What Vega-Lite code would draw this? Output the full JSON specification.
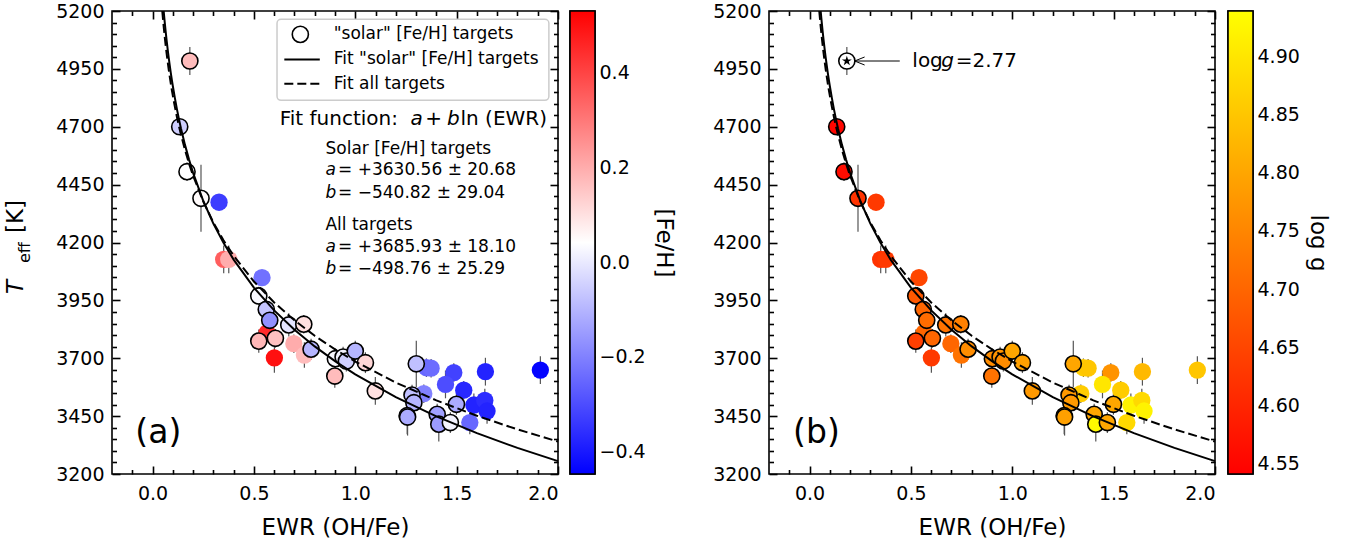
{
"$schema": "https://vega.github.io/schema/vega-lite/v6.json",
"background": "white",
"padding": {"left": 4, "top": 1, "right": 0, "bottom": 0},
"config": {
  "font": "DejaVu Sans",
  "view": {"stroke": "black", "strokeWidth": 1.6},
  "axis": {"domain": false, "grid": false, "labelFont": "DejaVu Sans", "labelFontSize": 19, "labelColor": "black", "tickColor": "black", "tickWidth": 1.6, "titleFont": "DejaVu Sans", "titleFontWeight": "normal", "titleColor": "black", "titleFontSize": 23}
},
"datasets": {
  "one": [{"k": 1}],
  "stars": [
    {"e": 0.184, "t": 4984, "lo": 4924, "hi": 5044, "feh": 0.17, "logg": 2.77, "solar": 1},
    {"e": 0.134, "t": 4700, "lo": 4675, "hi": 4725, "feh": -0.05, "logg": 4.55, "solar": 1},
    {"e": 0.170, "t": 4506, "lo": 4466, "hi": 4546, "feh": 0.04, "logg": 4.56, "solar": 1},
    {"e": 0.239, "t": 4391, "lo": 4246, "hi": 4536, "feh": 0.05, "logg": 4.62, "solar": 1},
    {"e": 0.328, "t": 4374, "lo": 4344, "hi": 4404, "feh": -0.33, "logg": 4.63, "solar": 0},
    {"e": 0.351, "t": 4127, "lo": 4067, "hi": 4187, "feh": 0.35, "logg": 4.62, "solar": 0},
    {"e": 0.376, "t": 4127, "lo": 4067, "hi": 4187, "feh": 0.2, "logg": 4.63, "solar": 0},
    {"e": 0.540, "t": 4048, "lo": 4018, "hi": 4078, "feh": -0.23, "logg": 4.65, "solar": 0},
    {"e": 0.524, "t": 3969, "lo": 3929, "hi": 4009, "feh": 0.03, "logg": 4.68, "solar": 1},
    {"e": 0.561, "t": 3911, "lo": 3871, "hi": 3951, "feh": -0.07, "logg": 4.70, "solar": 1},
    {"e": 0.578, "t": 3864, "lo": 3824, "hi": 3904, "feh": -0.17, "logg": 4.71, "solar": 1},
    {"e": 0.565, "t": 3810, "lo": 3780, "hi": 3840, "feh": 0.45, "logg": 4.70, "solar": 0},
    {"e": 0.524, "t": 3774, "lo": 3724, "hi": 3824, "feh": 0.18, "logg": 4.64, "solar": 1},
    {"e": 0.606, "t": 3786, "lo": 3746, "hi": 3826, "feh": 0.16, "logg": 4.70, "solar": 1},
    {"e": 0.601, "t": 3702, "lo": 3637, "hi": 3767, "feh": 0.5, "logg": 4.63, "solar": 0},
    {"e": 0.672, "t": 3844, "lo": 3794, "hi": 3894, "feh": -0.01, "logg": 4.72, "solar": 1},
    {"e": 0.746, "t": 3847, "lo": 3807, "hi": 3887, "feh": 0.1, "logg": 4.74, "solar": 1},
    {"e": 0.697, "t": 3763, "lo": 3723, "hi": 3803, "feh": 0.2, "logg": 4.70, "solar": 0},
    {"e": 0.749, "t": 3714, "lo": 3659, "hi": 3769, "feh": 0.17, "logg": 4.72, "solar": 0},
    {"e": 0.782, "t": 3739, "lo": 3694, "hi": 3784, "feh": -0.1, "logg": 4.76, "solar": 1},
    {"e": 0.902, "t": 3698, "lo": 3653, "hi": 3743, "feh": 0.03, "logg": 4.76, "solar": 1},
    {"e": 0.940, "t": 3705, "lo": 3660, "hi": 3750, "feh": 0.02, "logg": 4.77, "solar": 1},
    {"e": 0.956, "t": 3688, "lo": 3643, "hi": 3733, "feh": -0.05, "logg": 4.76, "solar": 1},
    {"e": 1.000, "t": 3731, "lo": 3686, "hi": 3776, "feh": -0.1, "logg": 4.80, "solar": 1},
    {"e": 1.050, "t": 3681, "lo": 3636, "hi": 3726, "feh": 0.12, "logg": 4.79, "solar": 1},
    {"e": 0.899, "t": 3623, "lo": 3573, "hi": 3673, "feh": 0.17, "logg": 4.72, "solar": 1},
    {"e": 1.099, "t": 3559, "lo": 3499, "hi": 3619, "feh": 0.1, "logg": 4.78, "solar": 1},
    {"e": 1.301, "t": 3676, "lo": 3576, "hi": 3776, "feh": -0.08, "logg": 4.80, "solar": 1},
    {"e": 1.351, "t": 3659, "lo": 3619, "hi": 3699, "feh": -0.25, "logg": 4.86, "solar": 0},
    {"e": 1.374, "t": 3657, "lo": 3617, "hi": 3697, "feh": -0.24, "logg": 4.85, "solar": 0},
    {"e": 1.486, "t": 3638, "lo": 3598, "hi": 3678, "feh": -0.32, "logg": 4.77, "solar": 0},
    {"e": 1.445, "t": 3587, "lo": 3527, "hi": 3647, "feh": -0.3, "logg": 4.90, "solar": 0},
    {"e": 1.642, "t": 3642, "lo": 3582, "hi": 3702, "feh": -0.38, "logg": 4.83, "solar": 0},
    {"e": 1.913, "t": 3649, "lo": 3589, "hi": 3709, "feh": -0.44, "logg": 4.85, "solar": 0},
    {"e": 1.535, "t": 3562, "lo": 3522, "hi": 3602, "feh": -0.37, "logg": 4.86, "solar": 0},
    {"e": 1.585, "t": 3498, "lo": 3448, "hi": 3548, "feh": -0.38, "logg": 4.92, "solar": 0},
    {"e": 1.639, "t": 3518, "lo": 3468, "hi": 3568, "feh": -0.36, "logg": 4.88, "solar": 0},
    {"e": 1.650, "t": 3472, "lo": 3417, "hi": 3527, "feh": -0.38, "logg": 4.92, "solar": 0},
    {"e": 1.565, "t": 3422, "lo": 3372, "hi": 3472, "feh": -0.25, "logg": 4.88, "solar": 0},
    {"e": 1.338, "t": 3547, "lo": 3507, "hi": 3587, "feh": -0.2, "logg": 4.86, "solar": 0},
    {"e": 1.280, "t": 3541, "lo": 3496, "hi": 3586, "feh": -0.08, "logg": 4.78, "solar": 1},
    {"e": 1.289, "t": 3508, "lo": 3463, "hi": 3553, "feh": -0.1, "logg": 4.78, "solar": 1},
    {"e": 1.256, "t": 3452, "lo": 3372, "hi": 3532, "feh": -0.1, "logg": 4.79, "solar": 1},
    {"e": 1.258, "t": 3446, "lo": 3366, "hi": 3526, "feh": -0.12, "logg": 4.79, "solar": 1},
    {"e": 1.404, "t": 3458, "lo": 3413, "hi": 3503, "feh": -0.14, "logg": 4.80, "solar": 1},
    {"e": 1.412, "t": 3415, "lo": 3340, "hi": 3490, "feh": -0.15, "logg": 4.93, "solar": 1},
    {"e": 1.469, "t": 3422, "lo": 3377, "hi": 3467, "feh": 0.02, "logg": 4.80, "solar": 1},
    {"e": 1.499, "t": 3501, "lo": 3456, "hi": 3546, "feh": -0.12, "logg": 4.80, "solar": 1}
  ],
  "fitSolar": [
    {"e": 0.0549, "t": 5200}, {"e": 0.06, "t": 5152.1}, {"e": 0.065, "t": 5108.9},
    {"e": 0.07, "t": 5068.8}, {"e": 0.075, "t": 5031.5}, {"e": 0.08, "t": 4996.5}, {"e": 0.085, "t": 4963.8},
    {"e": 0.09, "t": 4932.8}, {"e": 0.095, "t": 4903.6}, {"e": 0.1, "t": 4875.9}, {"e": 0.11, "t": 4824.4},
    {"e": 0.12, "t": 4777.3}, {"e": 0.13, "t": 4734.0}, {"e": 0.14, "t": 4693.9}, {"e": 0.16, "t": 4621.7},
    {"e": 0.18, "t": 4558.0}, {"e": 0.2, "t": 4501.0}, {"e": 0.25, "t": 4380.3}, {"e": 0.3, "t": 4281.7},
    {"e": 0.35, "t": 4198.4}, {"e": 0.4, "t": 4126.2}, {"e": 0.5, "t": 4005.4}, {"e": 0.6, "t": 3906.8},
    {"e": 0.7, "t": 3823.5}, {"e": 0.8, "t": 3751.2}, {"e": 0.9, "t": 3687.6}, {"e": 1.0, "t": 3630.6},
    {"e": 1.2, "t": 3532.0}, {"e": 1.4, "t": 3448.6}, {"e": 1.6, "t": 3376.4}, {"e": 1.8, "t": 3312.7},
    {"e": 2.0, "t": 3255.7}
  ],
  "fitAll": [
    {"e": 0.048, "t": 5200}, {"e": 0.05, "t": 5180.1}, {"e": 0.055, "t": 5132.5}, {"e": 0.06, "t": 5089.1},
    {"e": 0.065, "t": 5049.2}, {"e": 0.07, "t": 5012.3}, {"e": 0.075, "t": 4977.8}, {"e": 0.08, "t": 4945.6},
    {"e": 0.085, "t": 4915.4}, {"e": 0.09, "t": 4886.9}, {"e": 0.095, "t": 4859.9}, {"e": 0.1, "t": 4834.4},
    {"e": 0.11, "t": 4786.8}, {"e": 0.12, "t": 4743.4}, {"e": 0.13, "t": 4703.5}, {"e": 0.14, "t": 4666.5},
    {"e": 0.16, "t": 4599.9}, {"e": 0.18, "t": 4541.2}, {"e": 0.2, "t": 4488.6}, {"e": 0.25, "t": 4377.3},
    {"e": 0.3, "t": 4286.4}, {"e": 0.35, "t": 4209.5}, {"e": 0.4, "t": 4142.9}, {"e": 0.5, "t": 4031.6},
    {"e": 0.6, "t": 3940.7}, {"e": 0.7, "t": 3863.8}, {"e": 0.8, "t": 3797.2}, {"e": 0.9, "t": 3738.5},
    {"e": 1.0, "t": 3685.9}, {"e": 1.2, "t": 3595.0}, {"e": 1.4, "t": 3518.1}, {"e": 1.6, "t": 3451.5},
    {"e": 1.8, "t": 3392.7}, {"e": 2.0, "t": 3340.2}
  ]
},
"spacing": 36,
"resolve": {"scale": {"fill": "independent"}},
"hconcat": [
 {"spacing": 5, "resolve": {"scale": {"fill": "independent"}}, "hconcat": [
  {"width": 446, "height": 463, "data": {"name": "stars"},
   "resolve": {"axis": {"x": "independent", "y": "independent"}},
   "layer": [
    {"mark": {"type": "rule", "color": "#555555", "strokeWidth": 1.2},
     "encoding": {
      "x": {"field": "e", "type": "quantitative", "scale": {"domain": [-0.2, 2.0], "nice": false, "zero": false}, "axis": {"orient": "bottom", "values": [0, 0.5, 1, 1.5, 2], "format": ".1f", "ticks": false, "labelPadding": 10, "title": "EWR (OH/Fe)", "titlePadding": 13}},
      "y": {"field": "lo", "type": "quantitative", "scale": {"domain": [3200, 5200], "nice": false, "zero": false}, "axis": {"orient": "left", "values": [3200, 3450, 3700, 3950, 4200, 4450, 4700, 4950, 5200], "format": "d", "ticks": false, "labelPadding": 8, "title": null}},
      "y2": {"field": "hi"}}},
    {"transform": [{"filter": "datum.solar == 0"}],
     "mark": {"type": "point", "shape": "circle", "filled": true, "size": 300, "strokeWidth": 0, "opacity": 1},
     "encoding": {
      "x": {"field": "e", "type": "quantitative", "scale": {"domain": [-0.2, 2.0], "nice": false, "zero": false}, "axis": {"orient": "bottom", "values": [0, 0.5, 1, 1.5, 2], "labels": false, "tickSize": -8, "title": null}},
      "y": {"field": "t", "type": "quantitative", "scale": {"domain": [3200, 5200], "nice": false, "zero": false}, "axis": {"orient": "left", "values": [3200, 3450, 3700, 3950, 4200, 4450, 4700, 4950, 5200], "labels": false, "tickSize": -8, "title": null}},
      "fill": {"field": "feh", "type": "quantitative", "scale": {"domain": [-0.447, 0.0415, 0.53], "range": ["#0000ff", "#ffffff", "#ff0000"], "interpolate": "rgb"}, "legend": null}}},
    {"transform": [{"filter": "datum.solar == 1"}],
     "mark": {"type": "point", "shape": "circle", "filled": true, "size": 260, "stroke": "black", "strokeWidth": 1.6, "opacity": 1},
     "encoding": {
      "x": {"field": "e", "type": "quantitative", "scale": {"domain": [-0.2, 2.0], "nice": false, "zero": false}, "axis": {"orient": "bottom", "values": [-0.1, 0.1, 0.2, 0.3, 0.4, 0.6, 0.7, 0.8, 0.9, 1.1, 1.2, 1.3, 1.4, 1.6, 1.7, 1.8, 1.9], "labels": false, "tickSize": -4.5, "title": null}},
      "y": {"field": "t", "type": "quantitative", "scale": {"domain": [3200, 5200], "nice": false, "zero": false}, "axis": {"orient": "left", "values": [3250, 3300, 3350, 3400, 3500, 3550, 3600, 3650, 3750, 3800, 3850, 3900, 4000, 4050, 4100, 4150, 4250, 4300, 4350, 4400, 4500, 4550, 4600, 4650, 4750, 4800, 4850, 4900, 5000, 5050, 5100, 5150], "labels": false, "tickSize": -4.5, "title": null}},
      "fill": {"field": "feh", "type": "quantitative", "scale": {"domain": [-0.447, 0.0415, 0.53], "range": ["#0000ff", "#ffffff", "#ff0000"], "interpolate": "rgb"}, "legend": null}}},
    {"data": {"name": "fitSolar"},
     "mark": {"type": "line", "color": "black", "strokeWidth": 2},
     "encoding": {
      "x": {"field": "e", "type": "quantitative", "scale": {"domain": [-0.2, 2.0], "nice": false, "zero": false}, "axis": {"orient": "top", "values": [0, 0.5, 1, 1.5, 2], "labels": false, "tickSize": -8, "title": null}},
      "y": {"field": "t", "type": "quantitative", "scale": {"domain": [3200, 5200], "nice": false, "zero": false}, "axis": {"orient": "right", "values": [3200, 3450, 3700, 3950, 4200, 4450, 4700, 4950, 5200], "labels": false, "tickSize": -8, "title": null}}}},
    {"data": {"name": "fitAll"},
     "mark": {"type": "line", "color": "black", "strokeWidth": 2, "strokeDash": [9, 4]},
     "encoding": {
      "x": {"field": "e", "type": "quantitative", "scale": {"domain": [-0.2, 2.0], "nice": false, "zero": false}, "axis": {"orient": "top", "values": [-0.1, 0.1, 0.2, 0.3, 0.4, 0.6, 0.7, 0.8, 0.9, 1.1, 1.2, 1.3, 1.4, 1.6, 1.7, 1.8, 1.9], "labels": false, "tickSize": -4.5, "title": null}},
      "y": {"field": "t", "type": "quantitative", "scale": {"domain": [3200, 5200], "nice": false, "zero": false}, "axis": {"orient": "right", "values": [3250, 3300, 3350, 3400, 3500, 3550, 3600, 3650, 3750, 3800, 3850, 3900, 4000, 4050, 4100, 4150, 4250, 4300, 4350, 4400, 4500, 4550, 4600, 4650, 4750, 4800, 4850, 4900, 5000, 5050, 5100, 5150], "labels": false, "tickSize": -4.5, "title": null}}}},
    {"data": {"name": "one"},
     "mark": {"type": "rect", "fill": "white", "fillOpacity": 0.8, "stroke": "#cccccc", "strokeWidth": 1.5, "cornerRadius": 4},
     "encoding": {"x": {"datum": 0.614, "type": "quantitative", "axis": null}, "x2": {"datum": 1.955}, "y": {"datum": 5164, "type": "quantitative", "axis": null}, "y2": {"datum": 4814}}},
    {"data": {"name": "one"},
     "mark": {"type": "point", "shape": "circle", "filled": true, "fill": "white", "size": 260, "stroke": "black", "strokeWidth": 1.6, "opacity": 1},
     "encoding": {"x": {"datum": 0.729, "type": "quantitative", "axis": null}, "y": {"datum": 5099, "type": "quantitative", "axis": null}}},
    {"data": {"name": "one"},
     "mark": {"type": "rule", "color": "black", "strokeWidth": 2},
     "encoding": {"x": {"datum": 0.650, "type": "quantitative", "axis": null}, "x2": {"datum": 0.825}, "y": {"datum": 4991, "type": "quantitative", "axis": null}}},
    {"data": {"name": "one"},
     "mark": {"type": "rule", "color": "black", "strokeWidth": 2, "strokeDash": [9, 4]},
     "encoding": {"x": {"datum": 0.650, "type": "quantitative", "axis": null}, "x2": {"datum": 0.825}, "y": {"datum": 4886, "type": "quantitative", "axis": null}}},
    {"data": {"name": "one"}, "mark": {"type": "text", "text": "\"solar\" [Fe/H] targets", "align": "left", "baseline": "middle", "fontSize": 17},
     "encoding": {"x": {"datum": 0.894, "type": "quantitative", "axis": null}, "y": {"datum": 5099, "type": "quantitative", "axis": null}}},
    {"data": {"name": "one"}, "mark": {"type": "text", "text": "Fit \"solar\" [Fe/H] targets", "align": "left", "baseline": "middle", "fontSize": 17},
     "encoding": {"x": {"datum": 0.894, "type": "quantitative", "axis": null}, "y": {"datum": 4991, "type": "quantitative", "axis": null}}},
    {"data": {"name": "one"}, "mark": {"type": "text", "text": "Fit all targets", "align": "left", "baseline": "middle", "fontSize": 17},
     "encoding": {"x": {"datum": 0.894, "type": "quantitative", "axis": null}, "y": {"datum": 4886, "type": "quantitative", "axis": null}}},
    {"data": {"name": "one"}, "mark": {"type": "text", "text": "Fit function:", "align": "left", "baseline": "middle", "fontSize": 20},
     "encoding": {"x": {"datum": 0.6275, "type": "quantitative", "axis": null}, "y": {"datum": 4732, "type": "quantitative", "axis": null}}},
    {"data": {"name": "one"}, "mark": {"type": "text", "text": "a", "fontStyle": "italic", "align": "left", "baseline": "middle", "fontSize": 20},
     "encoding": {"x": {"datum": 1.272, "type": "quantitative", "axis": null}, "y": {"datum": 4732, "type": "quantitative", "axis": null}}},
    {"data": {"name": "one"}, "mark": {"type": "text", "text": "+", "align": "left", "baseline": "middle", "fontSize": 20},
     "encoding": {"x": {"datum": 1.345, "type": "quantitative", "axis": null}, "y": {"datum": 4732, "type": "quantitative", "axis": null}}},
    {"data": {"name": "one"}, "mark": {"type": "text", "text": "b", "fontStyle": "italic", "align": "left", "baseline": "middle", "fontSize": 20},
     "encoding": {"x": {"datum": 1.453, "type": "quantitative", "axis": null}, "y": {"datum": 4732, "type": "quantitative", "axis": null}}},
    {"data": {"name": "one"}, "mark": {"type": "text", "text": "ln (EWR)", "align": "left", "baseline": "middle", "fontSize": 20},
     "encoding": {"x": {"datum": 1.519, "type": "quantitative", "axis": null}, "y": {"datum": 4732, "type": "quantitative", "axis": null}}},
    {"data": {"name": "one"}, "mark": {"type": "text", "text": "Solar [Fe/H] targets", "align": "left", "baseline": "middle", "fontSize": 17},
     "encoding": {"x": {"datum": 0.853, "type": "quantitative", "axis": null}, "y": {"datum": 4603, "type": "quantitative", "axis": null}}},
    {"data": {"name": "one"}, "mark": {"type": "text", "text": "a", "fontStyle": "italic", "align": "left", "baseline": "middle", "fontSize": 17},
     "encoding": {"x": {"datum": 0.853, "type": "quantitative", "axis": null}, "y": {"datum": 4512, "type": "quantitative", "axis": null}}},
    {"data": {"name": "one"}, "mark": {"type": "text", "text": "= +3630.56 ± 20.68", "align": "left", "baseline": "middle", "fontSize": 17},
     "encoding": {"x": {"datum": 0.915, "type": "quantitative", "axis": null}, "y": {"datum": 4512, "type": "quantitative", "axis": null}}},
    {"data": {"name": "one"}, "mark": {"type": "text", "text": "b", "fontStyle": "italic", "align": "left", "baseline": "middle", "fontSize": 17},
     "encoding": {"x": {"datum": 0.853, "type": "quantitative", "axis": null}, "y": {"datum": 4415, "type": "quantitative", "axis": null}}},
    {"data": {"name": "one"}, "mark": {"type": "text", "text": "= −540.82 ± 29.04", "align": "left", "baseline": "middle", "fontSize": 17},
     "encoding": {"x": {"datum": 0.915, "type": "quantitative", "axis": null}, "y": {"datum": 4415, "type": "quantitative", "axis": null}}},
    {"data": {"name": "one"}, "mark": {"type": "text", "text": "All targets", "align": "left", "baseline": "middle", "fontSize": 17},
     "encoding": {"x": {"datum": 0.853, "type": "quantitative", "axis": null}, "y": {"datum": 4276, "type": "quantitative", "axis": null}}},
    {"data": {"name": "one"}, "mark": {"type": "text", "text": "a", "fontStyle": "italic", "align": "left", "baseline": "middle", "fontSize": 17},
     "encoding": {"x": {"datum": 0.853, "type": "quantitative", "axis": null}, "y": {"datum": 4181, "type": "quantitative", "axis": null}}},
    {"data": {"name": "one"}, "mark": {"type": "text", "text": "= +3685.93 ± 18.10", "align": "left", "baseline": "middle", "fontSize": 17},
     "encoding": {"x": {"datum": 0.915, "type": "quantitative", "axis": null}, "y": {"datum": 4181, "type": "quantitative", "axis": null}}},
    {"data": {"name": "one"}, "mark": {"type": "text", "text": "b", "fontStyle": "italic", "align": "left", "baseline": "middle", "fontSize": 17},
     "encoding": {"x": {"datum": 0.853, "type": "quantitative", "axis": null}, "y": {"datum": 4084, "type": "quantitative", "axis": null}}},
    {"data": {"name": "one"}, "mark": {"type": "text", "text": "= −498.76 ± 25.29", "align": "left", "baseline": "middle", "fontSize": 17},
     "encoding": {"x": {"datum": 0.915, "type": "quantitative", "axis": null}, "y": {"datum": 4084, "type": "quantitative", "axis": null}}},
    {"data": {"name": "one"}, "mark": {"type": "text", "text": "(a)", "align": "left", "baseline": "middle", "fontSize": 33},
     "encoding": {"x": {"datum": -0.085, "type": "quantitative", "axis": null}, "y": {"datum": 3378, "type": "quantitative", "axis": null}}},
    {"data": {"name": "one"}, "mark": {"type": "text", "text": "T", "fontStyle": "italic", "align": "left", "baseline": "alphabetic", "angle": 270, "fontSize": 23},
     "encoding": {"x": {"datum": -0.639, "type": "quantitative", "axis": null}, "y": {"datum": 3977, "type": "quantitative", "axis": null}}},
    {"data": {"name": "one"}, "mark": {"type": "text", "text": "eff", "align": "left", "baseline": "alphabetic", "angle": 270, "fontSize": 16},
     "encoding": {"x": {"datum": -0.604, "type": "quantitative", "axis": null}, "y": {"datum": 4111, "type": "quantitative", "axis": null}}},
    {"data": {"name": "one"}, "mark": {"type": "text", "text": "[K]", "align": "left", "baseline": "alphabetic", "angle": 270, "fontSize": 23},
     "encoding": {"x": {"datum": -0.639, "type": "quantitative", "axis": null}, "y": {"datum": 4241, "type": "quantitative", "axis": null}}}
   ]},
  {"width": 25, "height": 463, "data": {"name": "one"},
   "mark": {"type": "rect", "stroke": "black", "strokeWidth": 1.6, "color": {"gradient": "linear", "x1": 0, "y1": 1, "x2": 0, "y2": 0, "stops": [{"offset": 0, "color": "#0000ff"}, {"offset": 0.5, "color": "#ffffff"}, {"offset": 1, "color": "#ff0000"}]}},
   "encoding": {
    "x": {"datum": 0, "type": "quantitative", "scale": {"domain": [0, 1], "nice": false, "zero": false}, "axis": null},
    "x2": {"datum": 1},
    "y": {"datum": -0.447, "type": "quantitative", "scale": {"domain": [-0.447, 0.53], "nice": false, "zero": false}, "axis": {"orient": "right", "values": [-0.4, -0.2, 0, 0.2, 0.4], "format": ".1f", "tickSize": -6, "labelPadding": 10, "title": "[Fe/H]", "titlePadding": 6}},
    "y2": {"datum": 0.53}}}
 ]},
 {"spacing": 6, "resolve": {"scale": {"fill": "independent"}}, "hconcat": [
  {"width": 446, "height": 463, "data": {"name": "stars"},
   "resolve": {"axis": {"x": "independent", "y": "independent"}},
   "layer": [
    {"mark": {"type": "rule", "color": "#555555", "strokeWidth": 1.2},
     "encoding": {
      "x": {"field": "e", "type": "quantitative", "scale": {"domain": [-0.2, 2.0], "nice": false, "zero": false}, "axis": {"orient": "bottom", "values": [0, 0.5, 1, 1.5, 2], "format": ".1f", "ticks": false, "labelPadding": 10, "title": "EWR (OH/Fe)", "titlePadding": 13}},
      "y": {"field": "lo", "type": "quantitative", "scale": {"domain": [3200, 5200], "nice": false, "zero": false}, "axis": {"orient": "left", "values": [3200, 3450, 3700, 3950, 4200, 4450, 4700, 4950, 5200], "format": "d", "ticks": false, "labelPadding": 8, "title": null}},
      "y2": {"field": "hi"}}},
    {"transform": [{"filter": "datum.solar == 0 && datum.logg > 4"}],
     "mark": {"type": "point", "shape": "circle", "filled": true, "size": 300, "strokeWidth": 0, "opacity": 1},
     "encoding": {
      "x": {"field": "e", "type": "quantitative", "scale": {"domain": [-0.2, 2.0], "nice": false, "zero": false}, "axis": {"orient": "bottom", "values": [0, 0.5, 1, 1.5, 2], "labels": false, "tickSize": -8, "title": null}},
      "y": {"field": "t", "type": "quantitative", "scale": {"domain": [3200, 5200], "nice": false, "zero": false}, "axis": {"orient": "left", "values": [3200, 3450, 3700, 3950, 4200, 4450, 4700, 4950, 5200], "labels": false, "tickSize": -8, "title": null}},
      "fill": {"field": "logg", "type": "quantitative", "scale": {"domain": [4.541, 4.939], "range": ["#ff0000", "#ffff00"], "interpolate": "rgb"}, "legend": null}}},
    {"transform": [{"filter": "datum.solar == 1 && datum.logg > 4"}],
     "mark": {"type": "point", "shape": "circle", "filled": true, "size": 260, "stroke": "black", "strokeWidth": 1.6, "opacity": 1},
     "encoding": {
      "x": {"field": "e", "type": "quantitative", "scale": {"domain": [-0.2, 2.0], "nice": false, "zero": false}, "axis": {"orient": "bottom", "values": [-0.1, 0.1, 0.2, 0.3, 0.4, 0.6, 0.7, 0.8, 0.9, 1.1, 1.2, 1.3, 1.4, 1.6, 1.7, 1.8, 1.9], "labels": false, "tickSize": -4.5, "title": null}},
      "y": {"field": "t", "type": "quantitative", "scale": {"domain": [3200, 5200], "nice": false, "zero": false}, "axis": {"orient": "left", "values": [3250, 3300, 3350, 3400, 3500, 3550, 3600, 3650, 3750, 3800, 3850, 3900, 4000, 4050, 4100, 4150, 4250, 4300, 4350, 4400, 4500, 4550, 4600, 4650, 4750, 4800, 4850, 4900, 5000, 5050, 5100, 5150], "labels": false, "tickSize": -4.5, "title": null}},
      "fill": {"field": "logg", "type": "quantitative", "scale": {"domain": [4.541, 4.939], "range": ["#ff0000", "#ffff00"], "interpolate": "rgb"}, "legend": null}}},
    {"transform": [{"filter": "datum.logg < 4"}],
     "mark": {"type": "point", "shape": "circle", "filled": true, "fill": "white", "size": 260, "stroke": "black", "strokeWidth": 1.6, "opacity": 1},
     "encoding": {"x": {"field": "e", "type": "quantitative", "axis": null}, "y": {"field": "t", "type": "quantitative", "axis": null}}},
    {"transform": [{"filter": "datum.logg < 4"}],
     "mark": {"type": "point", "shape": "M0,-1L0.2245,-0.309L0.951,-0.309L0.363,0.118L0.588,0.809L0,0.382L-0.588,0.809L-0.363,0.118L-0.951,-0.309L-0.2245,-0.309Z", "filled": true, "color": "black", "size": 110, "opacity": 1},
     "encoding": {"x": {"field": "e", "type": "quantitative", "axis": null}, "y": {"field": "t", "type": "quantitative", "axis": null}}},
    {"data": {"name": "fitSolar"},
     "mark": {"type": "line", "color": "black", "strokeWidth": 2},
     "encoding": {
      "x": {"field": "e", "type": "quantitative", "scale": {"domain": [-0.2, 2.0], "nice": false, "zero": false}, "axis": {"orient": "top", "values": [0, 0.5, 1, 1.5, 2], "labels": false, "tickSize": -8, "title": null}},
      "y": {"field": "t", "type": "quantitative", "scale": {"domain": [3200, 5200], "nice": false, "zero": false}, "axis": {"orient": "right", "values": [3200, 3450, 3700, 3950, 4200, 4450, 4700, 4950, 5200], "labels": false, "tickSize": -8, "title": null}}}},
    {"data": {"name": "fitAll"},
     "mark": {"type": "line", "color": "black", "strokeWidth": 2, "strokeDash": [9, 4]},
     "encoding": {
      "x": {"field": "e", "type": "quantitative", "scale": {"domain": [-0.2, 2.0], "nice": false, "zero": false}, "axis": {"orient": "top", "values": [-0.1, 0.1, 0.2, 0.3, 0.4, 0.6, 0.7, 0.8, 0.9, 1.1, 1.2, 1.3, 1.4, 1.6, 1.7, 1.8, 1.9], "labels": false, "tickSize": -4.5, "title": null}},
      "y": {"field": "t", "type": "quantitative", "scale": {"domain": [3200, 5200], "nice": false, "zero": false}, "axis": {"orient": "right", "values": [3250, 3300, 3350, 3400, 3500, 3550, 3600, 3650, 3750, 3800, 3850, 3900, 4000, 4050, 4100, 4150, 4250, 4300, 4350, 4400, 4500, 4550, 4600, 4650, 4750, 4800, 4850, 4900, 5000, 5050, 5100, 5150], "labels": false, "tickSize": -4.5, "title": null}}}},
    {"data": {"name": "one"},
     "mark": {"type": "rule", "color": "black", "strokeWidth": 1},
     "encoding": {"x": {"datum": 0.2225, "type": "quantitative", "axis": null}, "x2": {"datum": 0.445}, "y": {"datum": 4984, "type": "quantitative", "axis": null}}},
    {"data": {"name": "one"},
     "mark": {"type": "point", "shape": "M1,-0.8L-1,0L1,0.8", "filled": false, "stroke": "black", "strokeWidth": 1, "size": 100, "opacity": 1},
     "encoding": {"x": {"datum": 0.247, "type": "quantitative", "axis": null}, "y": {"datum": 4984, "type": "quantitative", "axis": null}}},
    {"data": {"name": "one"}, "mark": {"type": "text", "text": "log", "align": "left", "baseline": "middle", "fontSize": 20},
     "encoding": {"x": {"datum": 0.507, "type": "quantitative", "axis": null}, "y": {"datum": 4984, "type": "quantitative", "axis": null}}},
    {"data": {"name": "one"}, "mark": {"type": "text", "text": "g", "fontStyle": "italic", "align": "left", "baseline": "middle", "fontSize": 20},
     "encoding": {"x": {"datum": 0.650, "type": "quantitative", "axis": null}, "y": {"datum": 4984, "type": "quantitative", "axis": null}}},
    {"data": {"name": "one"}, "mark": {"type": "text", "text": "=2.77", "align": "left", "baseline": "middle", "fontSize": 20},
     "encoding": {"x": {"datum": 0.721, "type": "quantitative", "axis": null}, "y": {"datum": 4984, "type": "quantitative", "axis": null}}},
    {"data": {"name": "one"}, "mark": {"type": "text", "text": "(b)", "align": "left", "baseline": "middle", "fontSize": 33},
     "encoding": {"x": {"datum": -0.081, "type": "quantitative", "axis": null}, "y": {"datum": 3378, "type": "quantitative", "axis": null}}}
   ]},
  {"width": 25, "height": 463, "data": {"name": "one"},
   "mark": {"type": "rect", "stroke": "black", "strokeWidth": 1.6, "color": {"gradient": "linear", "x1": 0, "y1": 1, "x2": 0, "y2": 0, "stops": [{"offset": 0, "color": "#ff0000"}, {"offset": 1, "color": "#ffff00"}]}},
   "encoding": {
    "x": {"datum": 0, "type": "quantitative", "scale": {"domain": [0, 1], "nice": false, "zero": false}, "axis": null},
    "x2": {"datum": 1},
    "y": {"datum": 4.541, "type": "quantitative", "scale": {"domain": [4.541, 4.939], "nice": false, "zero": false}, "axis": {"orient": "right", "values": [4.55, 4.6, 4.65, 4.7, 4.75, 4.8, 4.85, 4.9], "format": ".2f", "tickSize": -6, "labelPadding": 10, "title": "log g", "titlePadding": 6}},
    "y2": {"datum": 4.939}}}
 ]}
]
}
